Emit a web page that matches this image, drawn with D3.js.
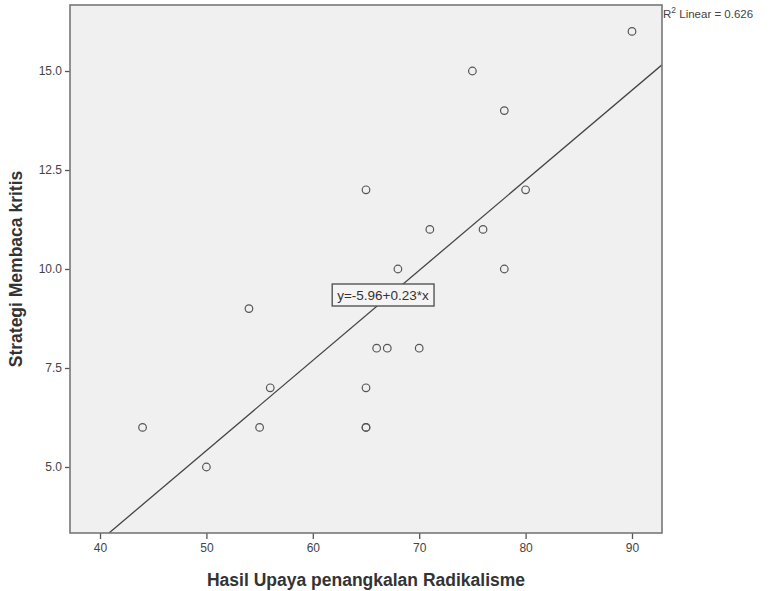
<!DOCTYPE html>
<html>
<head>
<meta charset="utf-8">
<script src="https://cdn.jsdelivr.net/npm/d3@7"></script>
<style>
  body { margin: 0; background: #fff; }
  text { font-family: Arial, "Liberation Sans", sans-serif; }
</style>
</head>
<body>
<div id="chart"></div>
<script>
// data
var xVals = [90, 75, 78, 65, 80, 71, 76, 68, 78, 54, 66, 67, 70, 56, 65, 44, 55, 65, 65, 50];
var yVals = [16, 15, 14, 12, 12, 11, 11, 10, 10, 9, 8, 8, 8, 7, 7, 6, 6, 6, 6, 5];
var xTicks = [40, 50, 60, 70, 80, 90];
var yTicks = [5.0, 7.5, 10.0, 12.5, 15.0];
var fitCoef = [-5.96, 0.2275];   // intercept, slope
var eqLabel = "y=-5.96+0.23*x";
var r2Label = "Linear = 0.626";

var W = 773, H = 591;
var pLeft = 70, pTop = 5, pRight = 662, pBottom = 533;

var svg = d3.select("#chart").append("svg")
    .attr("width", W)
    .attr("height", H);

var x = d3.scaleLinear().domain([37.18, 92.82]).range([pLeft, pRight]);
var y = d3.scaleLinear().domain([3.333, 16.667]).range([pBottom, pTop]);

// plot background
svg.append("rect")
    .attr("x", pLeft).attr("y", pTop)
    .attr("width", pRight - pLeft).attr("height", pBottom - pTop)
    .style("fill", "#f0f0f0");

// clip for the fit line
svg.append("defs").append("clipPath").attr("id", "plotclip")
    .append("rect")
    .attr("x", pLeft).attr("y", pTop)
    .attr("width", pRight - pLeft).attr("height", pBottom - pTop);

// axes
var xAxis = svg.append("g")
    .attr("transform", "translate(0," + pBottom + ")")
    .call(d3.axisBottom(x).tickValues(xTicks).tickSize(6).tickPadding(4).tickFormat(d3.format("d")));
var yAxis = svg.append("g")
    .attr("transform", "translate(" + pLeft + ",0)")
    .call(d3.axisLeft(y).tickValues(yTicks).tickSize(5).tickPadding(3).tickFormat(d3.format(".1f")));

[xAxis, yAxis].forEach(function(g) {
  g.select(".domain").remove();
  g.selectAll(".tick line").style("stroke", "#555").style("stroke-width", 1.3);
  g.selectAll(".tick text").style("fill", "#444").style("font-size", "12px");
});

// fit line
var lineData = [x.domain()[0], x.domain()[1]].map(function(v) {
  return [v, fitCoef[0] + fitCoef[1] * v];
});
svg.append("path")
    .datum(lineData)
    .attr("clip-path", "url(#plotclip)")
    .attr("d", d3.line().x(function(d) { return x(d[0]); }).y(function(d) { return y(d[1]); }))
    .style("fill", "none")
    .style("stroke", "#444")
    .style("stroke-width", 1.3);

// points
svg.selectAll("circle.pt")
    .data(xVals)
    .enter()
    .append("circle")
    .attr("class", "pt")
    .attr("cx", function(d) { return x(d); })
    .attr("cy", function(d, i) { return y(yVals[i]); })
    .attr("r", 3.8)
    .style("fill", "none")
    .style("stroke", "#555")
    .style("stroke-width", 1.2);

// frame
svg.append("rect")
    .attr("x", pLeft).attr("y", pTop)
    .attr("width", pRight - pLeft).attr("height", pBottom - pTop)
    .style("fill", "none")
    .style("stroke", "#777")
    .style("stroke-width", 1.6);

// equation box
var eqG = svg.append("g").attr("transform", "translate(383,295)");
var eqT = eqG.append("text")
    .text(eqLabel)
    .attr("text-anchor", "middle")
    .attr("y", 5)
    .style("font-size", "13.5px")
    .style("fill", "#333");
var bb = eqT.node().getBBox();
eqG.insert("rect", "text")
    .attr("x", bb.x - 5).attr("y", bb.y - 4)
    .attr("width", bb.width + 10).attr("height", bb.height + 7)
    .style("fill", "#f4f4f4")
    .style("stroke", "#555")
    .style("stroke-width", 1.4);

// R squared label
var r2 = svg.append("text")
    .attr("x", pRight + 1)
    .attr("y", 18)
    .style("font-size", "11.5px")
    .style("fill", "#444");
r2.append("tspan").text("R");
r2.append("tspan").text("2").attr("dy", -5).style("font-size", "8.5px");
r2.append("tspan").text(" " + r2Label).attr("dy", 5);

// axis titles
svg.append("text")
    .text("Hasil Upaya penangkalan Radikalisme")
    .attr("x", (pLeft + pRight) / 2)
    .attr("y", 586)
    .attr("text-anchor", "middle")
    .style("font-size", "17.5px")
    .style("font-weight", "bold")
    .style("fill", "#333");

svg.append("text")
    .text("Strategi Membaca kritis")
    .attr("transform", "translate(22," + ((pTop + pBottom) / 2) + ") rotate(-90)")
    .attr("text-anchor", "middle")
    .style("font-size", "17.5px")
    .style("font-weight", "bold")
    .style("fill", "#333");
</script>
</body>
</html>
